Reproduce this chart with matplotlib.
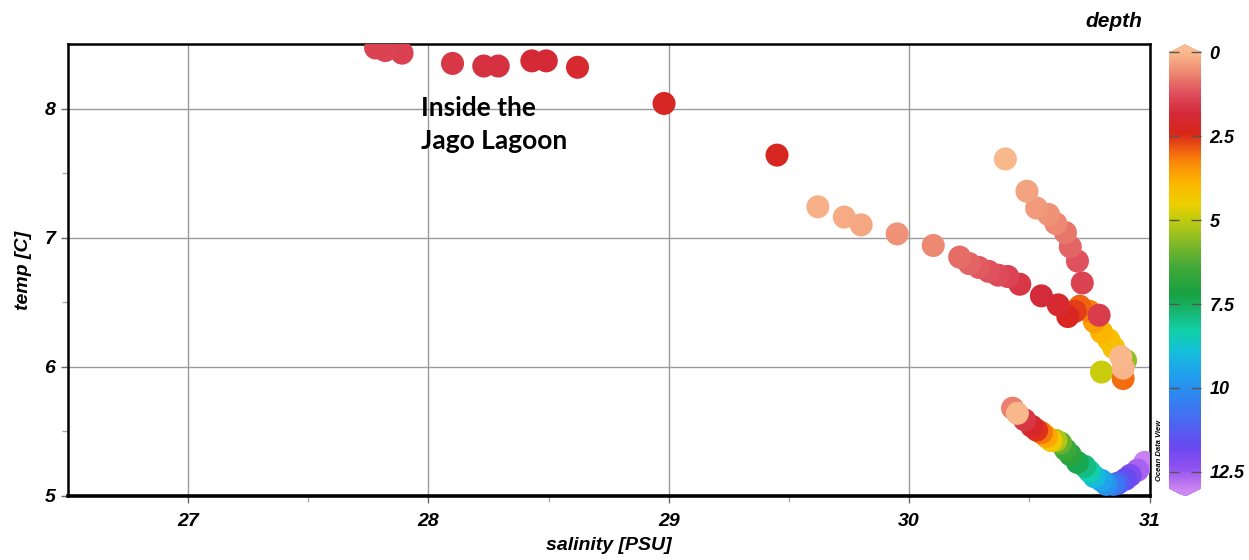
import numpy as np
import matplotlib
matplotlib.use('Agg')
import matplotlib.pyplot as plt
from matplotlib.colors import LinearSegmentedColormap

# salinity [PSU], temp [C], depth [m] for each sample
# lagoon profile along the top
sal_lagoon   = [27.78, 27.82, 27.89, 28.10, 28.23, 28.29, 28.43, 28.49, 28.62, 28.98, 29.45]
temp_lagoon  = [8.47, 8.45, 8.43, 8.35, 8.33, 8.33, 8.37, 8.37, 8.32, 8.04, 7.64]
depth_lagoon = [1.4, 1.4, 1.45, 1.6, 1.7, 1.7, 1.85, 1.85, 2.0, 2.2, 2.3]

# long profile coming in from 29.6 PSU
sal_mid   = [29.62, 29.73, 29.80, 29.95, 30.10, 30.21, 30.25, 30.29, 30.33, 30.37, 30.41,
             30.46, 30.55, 30.62, 30.66, 30.69, 30.71, 30.75, 30.77, 30.80, 30.83, 30.85]
temp_mid  = [7.24, 7.16, 7.10, 7.03, 6.94, 6.85, 6.80, 6.77, 6.74, 6.71, 6.70,
             6.64, 6.55, 6.48, 6.39, 6.43, 6.47, 6.43, 6.35, 6.27, 6.21, 6.15]
depth_mid = [0.15, 0.2, 0.25, 0.5, 0.6, 0.9, 1.0, 1.1, 1.2, 1.3, 1.4,
             1.6, 1.8, 2.0, 2.3, 2.6, 2.9, 3.2, 3.6, 3.9, 4.1, 4.2]

# short profile starting at 7.6 C
sal_upper   = [30.40, 30.49, 30.53, 30.58, 30.61, 30.65, 30.67, 30.70, 30.72, 30.79]
temp_upper  = [7.61, 7.36, 7.23, 7.18, 7.11, 7.04, 6.93, 6.82, 6.65, 6.40]
depth_upper = [0.05, 0.3, 0.4, 0.5, 0.6, 0.8, 1.0, 1.2, 1.4, 1.5]

# samples near 6 C
sal_six   = [30.88, 30.89, 30.80, 30.89, 30.90]
temp_six  = [6.08, 5.99, 5.96, 5.91, 6.05]
depth_six = [0.05, 0.1, 4.9, 3.0, 5.5]

# deep profile at the bottom right
sal_deep   = [30.43, 30.45, 30.48, 30.51, 30.53, 30.55, 30.57, 30.59, 30.61, 30.63, 30.65, 30.67,
              30.70, 30.73, 30.75, 30.77, 30.80, 30.82, 30.85, 30.87, 30.90, 30.92, 30.95, 30.98]
temp_deep  = [5.68, 5.64, 5.59, 5.54, 5.51, 5.49, 5.46, 5.43, 5.43, 5.41, 5.36, 5.32,
              5.26, 5.23, 5.19, 5.15, 5.12, 5.09, 5.09, 5.10, 5.13, 5.16, 5.20, 5.26]
depth_deep = [0.7, 0.05, 1.6, 2.1, 2.5, 3.1, 3.7, 4.3, 5.2, 6.0, 6.5, 6.9,
              7.4, 7.9, 8.4, 9.0, 9.5, 10.0, 10.6, 11.2, 11.7, 12.1, 12.6, 13.0]

salinity = np.concatenate((sal_lagoon, sal_mid, sal_upper, sal_six, sal_deep))
temp     = np.concatenate((temp_lagoon, temp_mid, temp_upper, temp_six, temp_deep))
depth    = np.concatenate((depth_lagoon, depth_mid, depth_upper, depth_six, depth_deep))

# deepest first so the shallow dots sit on top
order = np.argsort(-depth, kind='stable')

# ODV-like depth palette
stops = [(0.0, '#f9b88c'), (0.6, '#ec8670'), (1.2, '#de4e5c'), (1.8, '#d42a3a'),
         (2.4, '#d9261a'), (2.9, '#f06010'), (3.3, '#fa8c08'), (3.9, '#fdb800'),
         (4.5, '#ecce00'), (5.0, '#c0cc10'), (5.7, '#80b828'), (6.4, '#40a838'),
         (7.2, '#18a040'), (7.8, '#18b878'), (8.3, '#10d0a8'), (8.9, '#14c0d8'),
         (9.6, '#20a0ec'), (10.3, '#3084f0'), (11.0, '#4a68f0'), (11.8, '#6a48f0'),
         (12.4, '#9050f0'), (13.0, '#c880f0')]
odv = LinearSegmentedColormap.from_list('odv', [(d / 13.0, c) for d, c in stops])
odv.set_under('#f9bc92')
odv.set_over('#cc88f2')

plt.rcParams['font.family'] = ['Liberation Sans', 'DejaVu Sans']

fig = plt.figure(figsize=(12.49, 5.6), dpi=100)
ax = fig.add_axes([0.0544, 0.1143, 0.866, 0.807])
cax = fig.add_axes([0.936, 0.1143, 0.0256, 0.8054])

sc = ax.scatter(salinity[order], temp[order], c=depth[order], cmap=odv, vmin=0, vmax=13,
                s=275, edgecolors='none', zorder=3)

ax.set_xlim(26.5, 31)
ax.set_ylim(5, 8.5)
ax.set_xticks([27, 28, 29, 30, 31])
ax.set_yticks([5, 6, 7, 8])
ax.set_xticks(np.arange(27.5, 31, 1.0), minor=True)
ax.set_yticks(np.arange(5.5, 8.5, 1.0), minor=True)
ax.grid(True, which='major', color='#9a9a9a', linewidth=1.0, zorder=0)
ax.set_axisbelow(True)

for side in ['left', 'top', 'right']:
    ax.spines[side].set_linewidth(1.8)
ax.spines['bottom'].set_linewidth(2.6)

ax.tick_params(which='major', direction='out', length=5, width=1, color='#666666',
               labelsize=14)
ax.tick_params(axis='x', which='major', pad=7)
ax.tick_params(axis='y', which='major', pad=4)
ax.tick_params(which='minor', direction='out', length=4, width=1, color='#aaaaaa')
for lab in ax.get_xticklabels() + ax.get_yticklabels():
    lab.set_fontweight('bold')
    lab.set_fontstyle('italic')

ax.set_xlabel('salinity [PSU]', fontsize=14, fontweight='bold', fontstyle='italic', labelpad=5)
ax.set_ylabel('temp [C]', fontsize=14, fontweight='bold', fontstyle='italic', labelpad=9)

ax.text(27.967, 8.1, 'Inside the\nJago Lagoon', fontsize=19, fontweight='bold', family='Lato',
        va='top', ha='left', linespacing=1.45, zorder=4)

cbar = fig.colorbar(sc, cax=cax, extend='both', extendfrac=0.017)
cbar.outline.set_visible(False)
cax.invert_yaxis()
cbar.set_ticks([0, 2.5, 5, 7.5, 10, 12.5])
cbar.set_ticklabels(['0', '2.5', '5', '7.5', '10', '12.5'])
cax.tick_params(direction='in', left=True, right=True, length=7, width=1, color='#555555',
                labelsize=13, pad=6)
for lab in cax.get_yticklabels():
    lab.set_fontweight('bold')
    lab.set_fontstyle('italic')

fig.text(0.892, 0.962, 'depth', fontsize=15, fontweight='bold', fontstyle='italic',
         ha='center', va='center')
fig.text(0.9285, 0.195, 'Ocean Data View', fontsize=5.5, fontweight='bold', fontstyle='italic',
         rotation=90, ha='center', va='center')

plt.savefig('out.png', dpi=100)
